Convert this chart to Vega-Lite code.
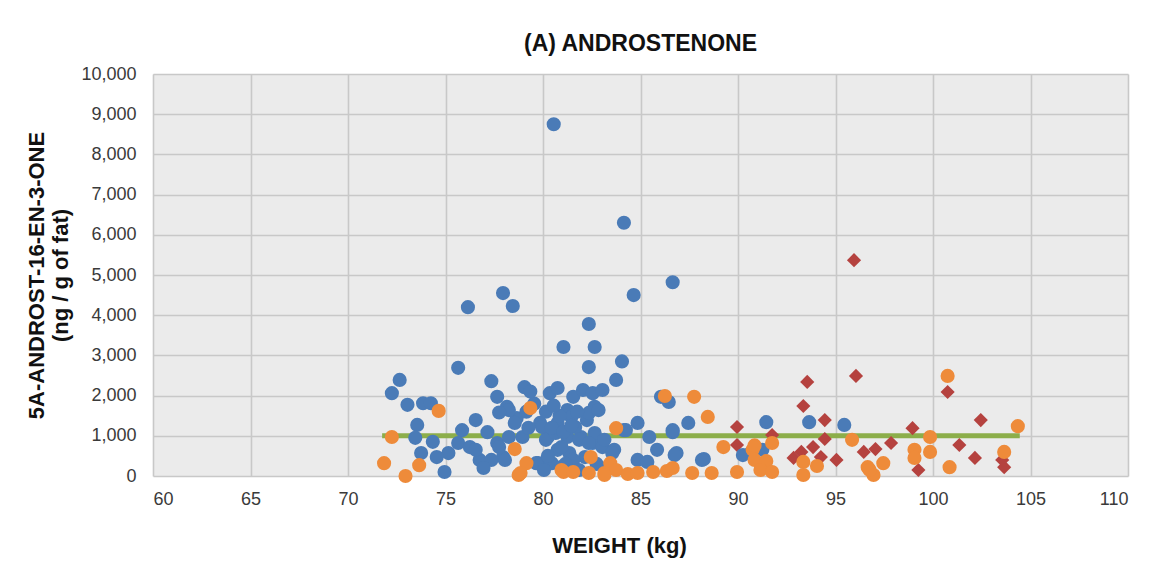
{
  "$schema": "https://vega.github.io/schema/vega-lite/v6.json",
  "width": 975,
  "height": 402,
  "autosize": {"type": "none"},
  "padding": {"left": 153, "top": 74, "right": 32, "bottom": 97},
  "background": "white",
  "config": {
    "view": {"fill": "#ebebeb", "stroke": null},
    "font": "Liberation Sans",
    "axis": {
      "grid": true, "gridColor": "#c8c8c8", "gridWidth": 1.6,
      "domain": false, "ticks": false, "tickSize": 0,
      "labelFont": "Liberation Sans", "labelFontSize": 18, "labelColor": "#3a3a3a",
      "titleFont": "Liberation Sans", "titleFontSize": 22, "titleFontWeight": "bold", "titleColor": "#111111"
    }
  },
  "title": {"text": "(A) ANDROSTENONE", "font": "Liberation Sans", "fontSize": 23, "fontWeight": "bold", "color": "#111111", "anchor": "middle", "offset": 9, "dx": 0},
  "datasets": {
    "pts": [
      {"g": "r", "w": 89.95, "v": 1220}, {"g": "r", "w": 89.95, "v": 770}, {"g": "r", "w": 95.95, "v": 5370},
      {"g": "r", "w": 93.55, "v": 2340}, {"g": "r", "w": 96.05, "v": 2490}, {"g": "r", "w": 93.35, "v": 1740},
      {"g": "r", "w": 94.45, "v": 1390}, {"g": "r", "w": 91.75, "v": 1020}, {"g": "r", "w": 94.45, "v": 920},
      {"g": "r", "w": 93.85, "v": 720}, {"g": "r", "w": 93.25, "v": 600}, {"g": "r", "w": 92.85, "v": 450},
      {"g": "r", "w": 94.25, "v": 470}, {"g": "r", "w": 95.05, "v": 400}, {"g": "r", "w": 96.45, "v": 600},
      {"g": "r", "w": 97.05, "v": 670}, {"g": "r", "w": 97.85, "v": 820}, {"g": "r", "w": 98.95, "v": 1190},
      {"g": "r", "w": 99.25, "v": 150}, {"g": "r", "w": 100.75, "v": 2090}, {"g": "r", "w": 102.45, "v": 1390},
      {"g": "r", "w": 101.35, "v": 770}, {"g": "r", "w": 102.15, "v": 450}, {"g": "r", "w": 103.65, "v": 220},
      {"g": "r", "w": 103.55, "v": 400},

      {"g": "b", "w": 80.55, "v": 8750}, {"g": "b", "w": 84.15, "v": 6300}, {"g": "b", "w": 76.15, "v": 4200},
      {"g": "b", "w": 77.95, "v": 4550}, {"g": "b", "w": 78.45, "v": 4230}, {"g": "b", "w": 84.65, "v": 4500},
      {"g": "b", "w": 86.65, "v": 4820}, {"g": "b", "w": 75.65, "v": 2690}, {"g": "b", "w": 82.35, "v": 3780},
      {"g": "b", "w": 81.05, "v": 3210}, {"g": "b", "w": 82.65, "v": 3210}, {"g": "b", "w": 82.35, "v": 2710},
      {"g": "b", "w": 84.05, "v": 2850}, {"g": "b", "w": 83.75, "v": 2390}, {"g": "b", "w": 72.65, "v": 2390},
      {"g": "b", "w": 72.25, "v": 2060}, {"g": "b", "w": 73.05, "v": 1770}, {"g": "b", "w": 73.85, "v": 1810},
      {"g": "b", "w": 74.25, "v": 1810}, {"g": "b", "w": 77.35, "v": 2360}, {"g": "b", "w": 79.05, "v": 2210},
      {"g": "b", "w": 77.65, "v": 1970}, {"g": "b", "w": 80.35, "v": 2060}, {"g": "b", "w": 80.75, "v": 2190},
      {"g": "b", "w": 73.55, "v": 1270}, {"g": "b", "w": 73.45, "v": 950}, {"g": "b", "w": 74.35, "v": 850},
      {"g": "b", "w": 73.75, "v": 570}, {"g": "b", "w": 74.95, "v": 100}, {"g": "b", "w": 75.85, "v": 1140},
      {"g": "b", "w": 76.55, "v": 1390}, {"g": "b", "w": 75.65, "v": 820}, {"g": "b", "w": 76.25, "v": 720},
      {"g": "b", "w": 77.15, "v": 1090}, {"g": "b", "w": 76.75, "v": 400}, {"g": "b", "w": 77.65, "v": 820},
      {"g": "b", "w": 77.95, "v": 470}, {"g": "b", "w": 75.15, "v": 570}, {"g": "b", "w": 74.55, "v": 470},
      {"g": "b", "w": 78.15, "v": 1720}, {"g": "b", "w": 78.65, "v": 1440}, {"g": "b", "w": 78.95, "v": 970},
      {"g": "b", "w": 79.85, "v": 1320}, {"g": "b", "w": 80.25, "v": 970}, {"g": "b", "w": 80.75, "v": 650},
      {"g": "b", "w": 80.75, "v": 1320}, {"g": "b", "w": 81.25, "v": 1640}, {"g": "b", "w": 79.75, "v": 320},
      {"g": "b", "w": 80.45, "v": 320}, {"g": "b", "w": 81.55, "v": 1970}, {"g": "b", "w": 82.05, "v": 2140},
      {"g": "b", "w": 82.55, "v": 2060}, {"g": "b", "w": 83.05, "v": 2140}, {"g": "b", "w": 82.65, "v": 1720},
      {"g": "b", "w": 82.25, "v": 1390}, {"g": "b", "w": 81.45, "v": 1470}, {"g": "b", "w": 81.25, "v": 970},
      {"g": "b", "w": 81.95, "v": 970}, {"g": "b", "w": 82.55, "v": 820}, {"g": "b", "w": 83.05, "v": 720},
      {"g": "b", "w": 83.65, "v": 650}, {"g": "b", "w": 84.15, "v": 1140}, {"g": "b", "w": 84.85, "v": 1320},
      {"g": "b", "w": 85.45, "v": 970}, {"g": "b", "w": 85.85, "v": 650}, {"g": "b", "w": 84.85, "v": 400},
      {"g": "b", "w": 85.35, "v": 350}, {"g": "b", "w": 86.05, "v": 1970}, {"g": "b", "w": 86.45, "v": 1840},
      {"g": "b", "w": 86.65, "v": 1090}, {"g": "b", "w": 86.85, "v": 570}, {"g": "b", "w": 87.45, "v": 1320},
      {"g": "b", "w": 88.25, "v": 420}, {"g": "b", "w": 81.35, "v": 570}, {"g": "b", "w": 82.15, "v": 470},
      {"g": "b", "w": 80.95, "v": 220}, {"g": "b", "w": 91.45, "v": 1340}, {"g": "b", "w": 90.65, "v": 570},
      {"g": "b", "w": 91.25, "v": 650}, {"g": "b", "w": 93.65, "v": 1340}, {"g": "b", "w": 95.45, "v": 1270},
      {"g": "b", "w": 76.55, "v": 650}, {"g": "b", "w": 77.35, "v": 400}, {"g": "b", "w": 78.25, "v": 970},
      {"g": "b", "w": 78.25, "v": 1640}, {"g": "b", "w": 78.55, "v": 1320}, {"g": "b", "w": 79.95, "v": 1220},
      {"g": "b", "w": 80.15, "v": 900}, {"g": "b", "w": 80.65, "v": 1070}, {"g": "b", "w": 80.95, "v": 720},
      {"g": "b", "w": 81.65, "v": 1220}, {"g": "b", "w": 81.85, "v": 900}, {"g": "b", "w": 82.35, "v": 1570},
      {"g": "b", "w": 82.85, "v": 1640}, {"g": "b", "w": 82.65, "v": 1070}, {"g": "b", "w": 83.15, "v": 900},
      {"g": "b", "w": 83.55, "v": 570}, {"g": "b", "w": 77.75, "v": 720}, {"g": "b", "w": 78.05, "v": 400},
      {"g": "b", "w": 79.65, "v": 320}, {"g": "b", "w": 81.55, "v": 400}, {"g": "b", "w": 82.35, "v": 820},
      {"g": "b", "w": 84.25, "v": 1140}, {"g": "b", "w": 86.65, "v": 1140}, {"g": "b", "w": 86.75, "v": 520},
      {"g": "b", "w": 88.15, "v": 400}, {"g": "b", "w": 90.25, "v": 520}, {"g": "b", "w": 80.45, "v": 1200},
      {"g": "b", "w": 81.05, "v": 1100}, {"g": "b", "w": 81.45, "v": 1250}, {"g": "b", "w": 80.85, "v": 1500},
      {"g": "b", "w": 80.15, "v": 1600}, {"g": "b", "w": 80.55, "v": 1750}, {"g": "b", "w": 81.75, "v": 1600},
      {"g": "b", "w": 79.55, "v": 1800}, {"g": "b", "w": 79.15, "v": 1600}, {"g": "b", "w": 79.25, "v": 1200},
      {"g": "b", "w": 80.25, "v": 500}, {"g": "b", "w": 81.15, "v": 300}, {"g": "b", "w": 81.85, "v": 150},
      {"g": "b", "w": 82.75, "v": 300}, {"g": "b", "w": 83.25, "v": 200}, {"g": "b", "w": 80.05, "v": 150},
      {"g": "b", "w": 76.95, "v": 200}, {"g": "b", "w": 77.75, "v": 1580}, {"g": "b", "w": 79.35, "v": 2100},

      {"g": "o", "w": 74.65, "v": 1620}, {"g": "o", "w": 72.25, "v": 970}, {"g": "o", "w": 71.85, "v": 320},
      {"g": "o", "w": 72.95, "v": 0}, {"g": "o", "w": 73.65, "v": 270}, {"g": "o", "w": 78.55, "v": 670},
      {"g": "o", "w": 79.35, "v": 1690}, {"g": "o", "w": 79.15, "v": 320}, {"g": "o", "w": 78.75, "v": 25},
      {"g": "o", "w": 81.05, "v": 100}, {"g": "o", "w": 86.25, "v": 1990}, {"g": "o", "w": 87.75, "v": 1970},
      {"g": "o", "w": 88.45, "v": 1470}, {"g": "o", "w": 83.75, "v": 1190}, {"g": "o", "w": 89.25, "v": 720},
      {"g": "o", "w": 82.45, "v": 470}, {"g": "o", "w": 83.45, "v": 320}, {"g": "o", "w": 80.95, "v": 150},
      {"g": "o", "w": 81.55, "v": 100}, {"g": "o", "w": 82.35, "v": 75}, {"g": "o", "w": 83.15, "v": 75},
      {"g": "o", "w": 83.75, "v": 150}, {"g": "o", "w": 84.35, "v": 50}, {"g": "o", "w": 84.85, "v": 75},
      {"g": "o", "w": 85.65, "v": 100}, {"g": "o", "w": 86.35, "v": 125}, {"g": "o", "w": 86.65, "v": 200},
      {"g": "o", "w": 87.65, "v": 75}, {"g": "o", "w": 88.65, "v": 75}, {"g": "o", "w": 89.95, "v": 100},
      {"g": "o", "w": 90.75, "v": 650}, {"g": "o", "w": 95.85, "v": 900}, {"g": "o", "w": 90.85, "v": 760},
      {"g": "o", "w": 91.75, "v": 820}, {"g": "o", "w": 90.85, "v": 400}, {"g": "o", "w": 91.45, "v": 370},
      {"g": "o", "w": 91.15, "v": 150}, {"g": "o", "w": 91.75, "v": 100}, {"g": "o", "w": 93.35, "v": 350},
      {"g": "o", "w": 93.35, "v": 25}, {"g": "o", "w": 94.05, "v": 250}, {"g": "o", "w": 96.65, "v": 220},
      {"g": "o", "w": 97.45, "v": 320}, {"g": "o", "w": 96.95, "v": 25}, {"g": "o", "w": 99.05, "v": 650},
      {"g": "o", "w": 99.05, "v": 450}, {"g": "o", "w": 99.85, "v": 970}, {"g": "o", "w": 99.85, "v": 600},
      {"g": "o", "w": 100.75, "v": 2490}, {"g": "o", "w": 104.35, "v": 1240}, {"g": "o", "w": 103.65, "v": 600},
      {"g": "o", "w": 100.85, "v": 220}, {"g": "o", "w": 78.85, "v": 75}, {"g": "o", "w": 83.15, "v": 25},
      {"g": "o", "w": 96.75, "v": 150}
    ],
    "line": [
      {"w": 71.75, "v": 1000}, {"w": 104.45, "v": 1000}
    ]
  },
  "layer": [
    {
      "data": {"name": "line"},
      "mark": {"type": "line", "color": "#8cae4a", "strokeWidth": 5},
      "encoding": {
        "x": {"field": "w", "type": "quantitative"},
        "y": {"field": "v", "type": "quantitative"}
      }
    },
    {
      "data": {"name": "pts"},
      "mark": {"type": "point", "filled": true, "opacity": 1},
      "encoding": {
        "x": {
          "field": "w", "type": "quantitative",
          "scale": {"domain": [60, 110], "nice": false, "zero": false},
          "axis": {"values": [60, 65, 70, 75, 80, 85, 90, 95, 100, 105, 110], "title": "WEIGHT (kg)", "labelPadding": 14, "titlePadding": 27, "titleX": 466}
        },
        "y": {
          "field": "v", "type": "quantitative",
          "scale": {"domain": [0, 10000], "nice": false},
          "axis": {"values": [0, 1000, 2000, 3000, 4000, 5000, 6000, 7000, 8000, 9000, 10000], "format": ",d", "title": ["5A-ANDROST-16-EN-3-ONE", "(ng / g of fat)"], "labelPadding": 17, "titlePadding": 8}
        },
        "color": {"field": "g", "type": "nominal", "scale": {"domain": ["b", "o", "r"], "range": ["#4a7bb7", "#ee8b3a", "#b5423f"]}, "legend": null},
        "shape": {"field": "g", "type": "nominal", "scale": {"domain": ["b", "o", "r"], "range": ["circle", "circle", "diamond"]}, "legend": null},
        "size": {"field": "g", "type": "nominal", "scale": {"domain": ["b", "o", "r"], "range": [200, 200, 240]}, "legend": null}
      }
    }
  ]
}
